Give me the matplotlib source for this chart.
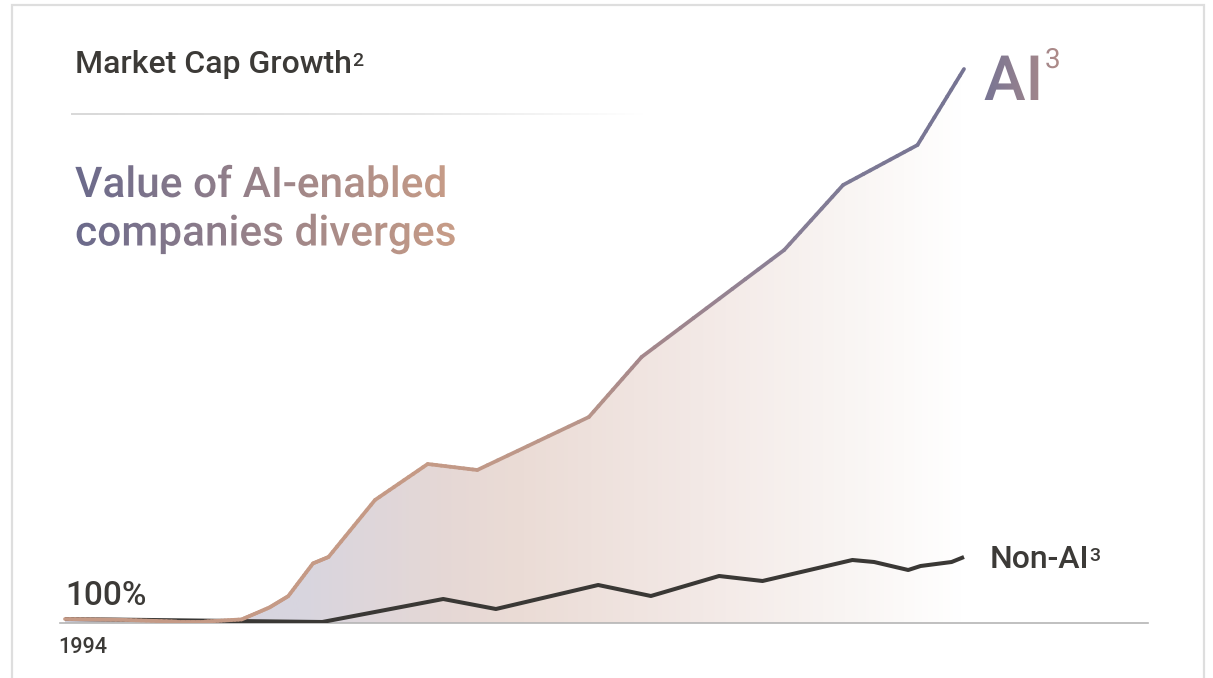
import numpy as np
import matplotlib
matplotlib.use("Agg")
import matplotlib.pyplot as plt
from matplotlib.collections import LineCollection
from matplotlib.colors import LinearSegmentedColormap, to_rgba
from matplotlib.patches import Polygon, Rectangle
from matplotlib.patheffects import AbstractPathEffect
from matplotlib.transforms import TransformedPath

plt.rcParams['font.family'] = ['Roboto', 'DejaVu Sans']

# market cap growth, % of 1994 value
ai_years = [1994.0, 1995.8, 1997.6, 1998.5, 1999.7, 2000.6, 2001.2, 2002.0, 2002.5,
            2004.0, 2005.7, 2007.3, 2010.9, 2012.6, 2017.2, 2019.1, 2021.5, 2023.0]
ai_growth = [100, 80, 35, 35, 90, 390, 670, 1490, 1650,
             3075, 3975, 3825, 5150, 6650, 9325, 10950, 11950, 13850]

nonai_years = [1994.0, 1998.4, 2002.3, 2006.2, 2007.9, 2011.2, 2012.9, 2015.1, 2016.5,
               2019.4, 2020.1, 2021.2, 2021.6, 2022.6, 2023.0]
nonai_growth = [100, 60, 25, 600, 350, 950, 675, 1175, 1050,
                1575, 1525, 1325, 1425, 1525, 1650]

title_small = "Market Cap Growth"
title_lines = ["Value of AI-enabled", "companies diverges"]
start_label = "100%"
first_year = "1994"

W, H = 1213, 678
DARK = '#3c3a37'


class GradientFill(AbstractPathEffect):
    """fill text glyphs with a horizontal gradient (x0..x1 in pixels)"""

    def __init__(self, c0, c1, x0, x1):
        super().__init__()
        self.c0 = np.array(to_rgba(c0))
        self.c1 = np.array(to_rgba(c1))
        self.x0, self.x1 = x0, x1

    def draw_path(self, renderer, gc, tpath, affine, rgbFace=None):
        ext = affine.transform_path(tpath).get_extents()
        l, b = int(np.floor(ext.x0)) - 1, int(np.floor(ext.y0)) - 1
        w, h = int(np.ceil(ext.width)) + 3, int(np.ceil(ext.height)) + 3
        t = np.clip((np.arange(w) + l - self.x0) / (self.x1 - self.x0), 0, 1)
        row = (self.c0[None, :] * (1 - t[:, None]) + self.c1[None, :] * t[:, None])
        img = np.ascontiguousarray(np.repeat((row * 255).astype(np.uint8)[None], h, axis=0))
        gc0 = renderer.new_gc()
        gc0.copy_properties(gc)
        gc0.set_clip_path(TransformedPath(tpath, affine))
        renderer.draw_image(gc0, l, b, img)
        gc0.restore()


fig = plt.figure(figsize=(W / 100, H / 100), dpi=100)

# main chart axes, 0 at the baseline
ax = fig.add_axes([60 / W, (H - 623) / H, (1148 - 60) / W, (623 - 40) / H])
ax.set_xlim(1994 - 5 / 31, 1994 + 1083 / 31)
ax.set_ylim(0, 14575)
for s in ['top', 'right', 'left']:
    ax.spines[s].set_visible(False)
ax.spines['bottom'].set_color('#b5b5b5')
ax.spines['bottom'].set_linewidth(1.2)
ax.set_xticks([])
ax.set_yticks([])
ax.patch.set_alpha(0)

# gradient area under the AI line
fill_cmap = LinearSegmentedColormap.from_list('fill', [
    (0.0, '#d6d5e2'), (0.26, '#d8d5df'), (0.43, '#e6d8d5'), (0.51, '#ebdcd6'),
    (0.71, '#f3e9e6'), (0.87, '#f9f5f3'), (1.0, '#ffffff')])
grad = np.linspace(0, 1, 512).reshape(1, -1)
im = ax.imshow(grad, extent=[ai_years[0], ai_years[-1], 0, max(ai_growth)],
               aspect='auto', origin='lower', cmap=fill_cmap, zorder=1)
area = Polygon(list(zip(ai_years, ai_growth)) + [(ai_years[-1], 0), (ai_years[0], 0)],
               closed=True, facecolor='none', edgecolor='none', transform=ax.transData)
ax.add_patch(area)
im.set_clip_path(area)

# AI line with colour shifting from peach to slate purple
line_cmap = LinearSegmentedColormap.from_list('line', [
    (0.0, '#c59a86'), (0.40, '#c59a86'), (0.58, '#b8958a'), (0.64, '#a6888b'),
    (0.80, '#8a7f95'), (0.87, '#7e7a95'), (1.0, '#767493')])
segs, cols = [], []
span = ai_years[-1] - ai_years[0]
for i in range(len(ai_years) - 1):
    xs = np.linspace(ai_years[i], ai_years[i + 1], 12)
    ys = np.linspace(ai_growth[i], ai_growth[i + 1], 12)
    for j in range(len(xs) - 1):
        segs.append([(xs[j], ys[j]), (xs[j + 1], ys[j + 1])])
        cols.append(line_cmap(((xs[j] + xs[j + 1]) / 2 - ai_years[0]) / span))
lc = LineCollection(segs, colors=cols, linewidths=2.7, capstyle='round',
                    joinstyle='round', zorder=4)
ax.add_collection(lc)

ax.plot(nonai_years, nonai_growth, color='#3a3835', lw=2.9, solid_joinstyle='round',
        solid_capstyle='butt', zorder=3)

# overlay in pixel coordinates for text and decorations
ov = fig.add_axes([0, 0, 1, 1], zorder=5)
ov.axis('off')

# light frame
ov.add_patch(Rectangle((12, -20), 1192, H - 5 + 20, fill=False, edgecolor='#dedede', lw=1.6))

# thin separator fading to the right
sep_cmap = LinearSegmentedColormap.from_list('sep', [
    (0.0, '#d9d9d9'), (0.6, '#e6e6e6'), (1.0, '#ffffff')])
ov.imshow(grad, extent=[71, 645, H - 115.2, H - 113.2], aspect='auto',
          origin='lower', cmap=sep_cmap)

ov.text(75, H - 73, title_small, fontsize=23, fontweight='medium', color=DARK,
        va='baseline', ha='left')
ov.text(352, H - 66, "2", fontsize=14, fontweight='medium', color=DARK,
        va='baseline', ha='left')

for k, line in enumerate(title_lines):
    ov.text(75, H - (197 + 48.5 * k), line, fontsize=30.5, fontweight='medium',
            va='baseline', ha='left',
            path_effects=[GradientFill('#6b6a8c', '#c79c87', 75, 449)])

ov.text(984, H - 100, "AI", fontsize=45, fontweight='medium', va='baseline', ha='left',
        path_effects=[GradientFill('#787594', '#b08c88', 984, 1060)])
ov.text(1045, H - 68, "3", fontsize=20, va='baseline', ha='left',
        path_effects=[GradientFill('#787594', '#b08c88', 984, 1060)])

ov.text(990, H - 568, "Non-AI", fontsize=23, fontweight='medium', color=DARK,
        va='baseline', ha='left')
ov.text(1089, H - 561, "3", fontsize=14, fontweight='medium', color=DARK,
        va='baseline', ha='left')
ov.text(65, H - 605, start_label, fontsize=24, fontweight='medium', color=DARK,
        va='baseline', ha='left')
ov.text(58, H - 653, first_year, fontsize=15.5, fontweight='medium', color=DARK,
        va='baseline', ha='left')

ov.set_xlim(0, W)
ov.set_ylim(0, H)

fig.savefig('out.png', dpi=100, facecolor='white')
